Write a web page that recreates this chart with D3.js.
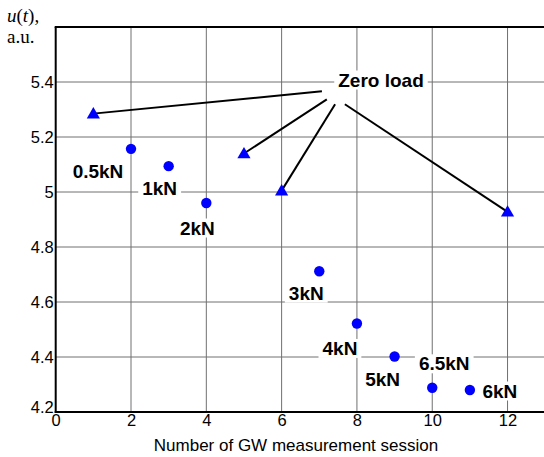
<!DOCTYPE html>
<html><head><meta charset="utf-8">
<script src="https://cdn.jsdelivr.net/npm/d3@7/dist/d3.min.js"></script>
<style>body{margin:0;background:#fff}svg{display:block}</style>
</head><body>
<svg id="c" width="544" height="457"></svg>
<script>
const xTicks = [0,2,4,6,8,10,12];
const yTicks = [4.2,4.4,4.6,4.8,5,5.2,5.4];
const yTickLabels = ["4.2","4.4","4.6","4.8","5","5.2","5.4"];
const zeroSessions = [1,5,6,12];
const zeroValues = [5.285,5.14,5.005,4.928];
const loadSessions = [2,3,4,7,8,9,10,11];
const loadValues = [5.157,5.094,4.96,4.712,4.522,4.402,4.288,4.28];
const loadLabels = ["0.5kN","1kN","2kN","3kN","4kN","5kN","6.5kN","6kN"];
const labelDx = [-33,-9,-9,-13,-17,-12,12,30];
const labelDy = [23,22,25,22,25,23,-24,1];
const zeroLabel = "Zero load";
const zeroAnchorX = [7.07,7.2,7.42,7.68];
const zeroAnchorY = [5.366,5.337,5.319,5.319];

const svg = d3.select("#c");
const L=55.7, T=27, B=412, R=545.2;
const x = d3.scaleLinear().domain([0,13]).range([L,R]);
const y = d3.scaleLinear().domain([4.2,5.6]).range([B,T]);
const SANS = "Arial, 'Liberation Sans', sans-serif";
const SERIF = "'Times New Roman', 'Liberation Serif', serif";

// grid
svg.append("g").selectAll("line").data(xTicks.filter(d=>d>0)).join("line")
  .attr("x1",d=>x(d)).attr("x2",d=>x(d)).attr("y1",T).attr("y2",B)
  .attr("stroke","#707070").attr("stroke-width",1);
svg.append("g").selectAll("line").data(yTicks.filter(d=>d>4.2)).join("line")
  .attr("x1",L).attr("x2",R).attr("y1",d=>y(d)).attr("y2",d=>y(d))
  .attr("stroke","#707070").attr("stroke-width",1);

// axes
const xa = svg.append("g").attr("transform",`translate(0,${B})`)
  .call(d3.axisBottom(x).tickValues(xTicks).tickSize(0).tickPadding(4).tickFormat(d3.format("d")));
const ya = svg.append("g").attr("transform",`translate(${L},0)`)
  .call(d3.axisLeft(y).tickValues(yTicks).tickSize(0).tickPadding(2).tickFormat((d,i)=>yTickLabels[i]));
[xa,ya].forEach(a=>{a.select(".domain").remove();a.selectAll("text").attr("font-family",SANS).attr("font-size",16.5).attr("fill","#000");});
ya.selectAll("text").filter(d=>d===4.2).attr("dy","0.05em");
xa.selectAll("text").attr("dy","0.62em");

// frame
svg.append("line").attr("x1",L).attr("x2",L).attr("y1",T).attr("y2",B+1).attr("stroke","#000").attr("stroke-width",2);
svg.append("line").attr("x1",L-1).attr("x2",R).attr("y1",B).attr("y2",B).attr("stroke","#000").attr("stroke-width",2);
svg.append("line").attr("x1",L-1).attr("x2",R).attr("y1",T).attr("y2",T).attr("stroke","#000").attr("stroke-width",2);

// annotation lines
const lab = svg.append("g");
lab.selectAll("line").data(zeroSessions).join("line")
  .attr("x1",(d,i)=>x(d)).attr("y1",(d,i)=>y(zeroValues[i]))
  .attr("x2",(d,i)=>x(zeroAnchorX[i])).attr("y2",(d,i)=>y(zeroAnchorY[i]))
  .attr("stroke","#000").attr("stroke-width",2);

function boxedText(g, tx, ty, text, anchor){
  const t = g.append("text").attr("x",tx).attr("y",ty).attr("text-anchor",anchor||"middle")
    .attr("dominant-baseline","central")
    .attr("font-family",SANS).attr("font-weight","bold").attr("font-size",19).text(text);
  const bb = t.node().getBBox();
  g.insert("rect","text").attr("x",bb.x-4).attr("y",bb.y+1).attr("width",bb.width+8).attr("height",bb.height-2).attr("fill","#fff");
  t.raise();
}
const zg = svg.append("g");
boxedText(zg, 381, 80, zeroLabel);

// markers
const tri = d3.symbol().type(d3.symbolTriangle).size(75);
svg.append("g").selectAll("path").data(zeroSessions).join("path")
  .attr("d",tri).attr("transform",(d,i)=>`translate(${x(d)},${y(zeroValues[i])+1})`).attr("fill","#0000ff");

const lg = svg.append("g");
loadSessions.forEach((d,i)=>{
  const g = lg.append("g");
  boxedText(g, x(d)+labelDx[i], y(loadValues[i])+labelDy[i], loadLabels[i], "middle");
});
svg.append("g").selectAll("circle").data(loadSessions).join("circle")
  .attr("cx",d=>x(d)).attr("cy",(d,i)=>y(loadValues[i])).attr("r",5.2).attr("fill","#0000ff");

// x title
svg.append("text").attr("x",296).attr("y",451).attr("text-anchor","middle")
  .attr("font-family",SANS).attr("font-size",17).text("Number of GW measurement session");

// y title
const yt = svg.append("text").attr("x",7).attr("y",22).attr("font-family",SERIF).attr("font-size",19);
yt.append("tspan").attr("font-style","italic").text("u");
yt.append("tspan").text("(");
yt.append("tspan").attr("font-style","italic").text("t");
yt.append("tspan").text("),");
svg.append("text").attr("x",7).attr("y",43).attr("font-family",SERIF).attr("font-size",19).text("a.u.");
</script>
</body></html>
